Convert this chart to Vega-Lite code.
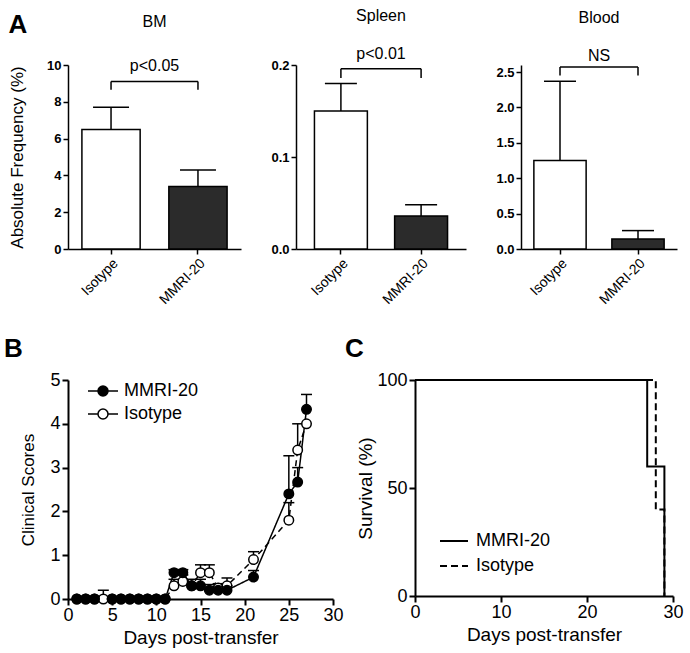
{
  "$schema": "https://vega.github.io/schema/vega-lite/v6.json",
  "padding": {"left": 3, "top": 8, "right": 2, "bottom": 4},
  "config": {
    "font": "Liberation Sans",
    "view": {"stroke": null},
    "axis": {"grid": false, "domainColor": "black", "tickColor": "black", "labelColor": "black", "titleColor": "black", "titleFontWeight": "normal", "labelFlush": false, "labelOverlap": false, "labelFont": "Liberation Sans", "titleFont": "Liberation Sans"},
    "title": {"fontWeight": "normal", "color": "black", "font": "Liberation Sans"},
    "legend": {"labelColor": "black", "labelFont": "Liberation Sans", "padding": 0},
    "text": {"font": "Liberation Sans", "color": "black"}
  },
  "datasets": {
    "freq": [
      {"tissue": "BM", "group": "Isotype", "mean": 6.5, "upper": 7.7},
      {"tissue": "BM", "group": "MMRI-20", "mean": 3.4, "upper": 4.3},
      {"tissue": "Spleen", "group": "Isotype", "mean": 0.15, "upper": 0.18},
      {"tissue": "Spleen", "group": "MMRI-20", "mean": 0.036, "upper": 0.048},
      {"tissue": "Blood", "group": "Isotype", "mean": 1.25, "upper": 2.37},
      {"tissue": "Blood", "group": "MMRI-20", "mean": 0.14, "upper": 0.26}
    ],
    "brackets": [
      {"tissue": "BM", "left": "Isotype", "right": "MMRI-20", "y": 9.1, "yb": 8.65, "label": "p<0.05", "ly": 9.5},
      {"tissue": "Spleen", "left": "Isotype", "right": "MMRI-20", "y": 0.196, "yb": 0.186, "label": "p<0.01", "ly": 0.203},
      {"tissue": "Blood", "left": "Isotype", "right": "MMRI-20", "y": 2.57, "yb": 2.45, "label": "NS", "ly": 2.62}
    ],
    "scores": [
      {"group": "Isotype", "day": 1, "score": 0, "upper": null},
      {"group": "Isotype", "day": 2, "score": 0, "upper": null},
      {"group": "Isotype", "day": 3, "score": 0, "upper": null},
      {"group": "Isotype", "day": 4, "score": 0, "upper": 0.2},
      {"group": "Isotype", "day": 5, "score": 0, "upper": null},
      {"group": "Isotype", "day": 6, "score": 0, "upper": null},
      {"group": "Isotype", "day": 7, "score": 0, "upper": null},
      {"group": "Isotype", "day": 8, "score": 0, "upper": null},
      {"group": "Isotype", "day": 9, "score": 0, "upper": null},
      {"group": "Isotype", "day": 10, "score": 0, "upper": null},
      {"group": "Isotype", "day": 11, "score": 0, "upper": null},
      {"group": "Isotype", "day": 12, "score": 0.3, "upper": 0.45},
      {"group": "Isotype", "day": 13, "score": 0.4, "upper": 0.55},
      {"group": "Isotype", "day": 14, "score": 0.3, "upper": null},
      {"group": "Isotype", "day": 15, "score": 0.6, "upper": 0.78},
      {"group": "Isotype", "day": 16, "score": 0.6, "upper": 0.78},
      {"group": "Isotype", "day": 17, "score": 0.25, "upper": 0.35},
      {"group": "Isotype", "day": 18, "score": 0.3, "upper": 0.48},
      {"group": "Isotype", "day": 21, "score": 0.9, "upper": 1.08},
      {"group": "Isotype", "day": 25, "score": 1.8, "upper": 2.2},
      {"group": "Isotype", "day": 26, "score": 3.4, "upper": 4.0},
      {"group": "Isotype", "day": 27, "score": 4.0, "upper": null},
      {"group": "MMRI-20", "day": 1, "score": 0, "upper": null},
      {"group": "MMRI-20", "day": 2, "score": 0, "upper": null},
      {"group": "MMRI-20", "day": 3, "score": 0, "upper": null},
      {"group": "MMRI-20", "day": 5, "score": 0, "upper": null},
      {"group": "MMRI-20", "day": 6, "score": 0, "upper": null},
      {"group": "MMRI-20", "day": 7, "score": 0, "upper": null},
      {"group": "MMRI-20", "day": 8, "score": 0, "upper": null},
      {"group": "MMRI-20", "day": 9, "score": 0, "upper": null},
      {"group": "MMRI-20", "day": 10, "score": 0, "upper": null},
      {"group": "MMRI-20", "day": 11, "score": 0, "upper": null},
      {"group": "MMRI-20", "day": 12, "score": 0.6, "upper": 0.67},
      {"group": "MMRI-20", "day": 13, "score": 0.6, "upper": 0.67},
      {"group": "MMRI-20", "day": 14, "score": 0.3, "upper": 0.45},
      {"group": "MMRI-20", "day": 15, "score": 0.3, "upper": 0.45},
      {"group": "MMRI-20", "day": 16, "score": 0.2, "upper": 0.33},
      {"group": "MMRI-20", "day": 17, "score": 0.2, "upper": 0.33},
      {"group": "MMRI-20", "day": 18, "score": 0.2, "upper": 0.3},
      {"group": "MMRI-20", "day": 21, "score": 0.5, "upper": 0.65},
      {"group": "MMRI-20", "day": 25, "score": 2.4, "upper": 3.27},
      {"group": "MMRI-20", "day": 26, "score": 2.67, "upper": 3.0},
      {"group": "MMRI-20", "day": 27, "score": 4.33, "upper": 4.67}
    ],
    "survival": [
      {"group": "Isotype", "day": 0, "pct": 100},
      {"group": "Isotype", "day": 28, "pct": 40},
      {"group": "Isotype", "day": 29, "pct": 0},
      {"group": "MMRI-20", "day": 0, "pct": 100},
      {"group": "MMRI-20", "day": 27, "pct": 60},
      {"group": "MMRI-20", "day": 29, "pct": 0}
    ]
  },
  "resolve": {"scale": {"fill": "independent", "strokeDash": "independent"}, "legend": {"fill": "independent", "strokeDash": "independent"}},
  "columns": 1,
  "align": "none",
  "spacing": 29,
  "concat": [
    {
      "title": {"text": "A", "anchor": "start", "fontSize": 26, "fontWeight": "bold", "offset": -14, "dx": 0, "dy": 16},
      "spacing": 29,
      "hconcat": [
        {
          "width": 173, "height": 184,
          "title": {"text": "BM", "fontSize": 16, "offset": 28},
          "layer": [
            {"data": {"name": "freq"}, "transform": [{"filter": "datum.tissue === 'BM'"}],
             "mark": {"type": "rule", "strokeWidth": 1.5, "color": "black"},
             "encoding": {
               "x": {"field": "group", "type": "nominal", "scale": {"paddingInner": 0.33, "paddingOuter": 0.16}, "axis": {"title": null, "labelAngle": -45, "labelFontSize": 14, "tickSize": 5, "tickWidth": 1.5, "domainWidth": 1.5}},
               "y": {"field": "mean", "type": "quantitative", "scale": {"domain": [0, 10]}, "axis": {"values": [0, 2, 4, 6, 8, 10], "title": "Absolute Frequency (%)", "titleFontSize": 17, "titlePadding": 20, "labelFontSize": 13, "labelFontWeight": "bold", "tickSize": 5, "tickWidth": 1.5, "domainWidth": 1.5}},
               "y2": {"field": "upper"}}},
            {"data": {"name": "freq"}, "transform": [{"filter": "datum.tissue === 'BM'"}],
             "mark": {"type": "bar", "stroke": "black", "strokeWidth": 1.5},
             "encoding": {"x": {"field": "group", "type": "nominal"},
               "y": {"field": "mean", "type": "quantitative", "axis": {"values": [0, 2, 4, 6, 8, 10], "title": "Absolute Frequency (%)", "titleFontSize": 17, "titlePadding": 20, "labelFontSize": 13, "labelFontWeight": "bold", "tickSize": 5, "tickWidth": 1.5, "domainWidth": 1.5}},
               "fill": {"field": "group", "type": "nominal", "scale": {"domain": ["Isotype", "MMRI-20"], "range": ["white", "#2b2b2b"]}, "legend": null}}},
            {"data": {"name": "freq"}, "transform": [{"filter": "datum.tissue === 'BM'"}],
             "mark": {"type": "tick", "orient": "horizontal", "size": 36, "thickness": 1.5, "color": "black", "opacity": 1},
             "encoding": {"x": {"field": "group", "type": "nominal"},
               "y": {"field": "upper", "type": "quantitative", "axis": {"values": [0, 2, 4, 6, 8, 10], "title": "Absolute Frequency (%)", "titleFontSize": 17, "titlePadding": 20, "labelFontSize": 13, "labelFontWeight": "bold", "tickSize": 5, "tickWidth": 1.5, "domainWidth": 1.5}}}},
            {"data": {"name": "brackets"}, "transform": [{"filter": "datum.tissue === 'BM'"}],
             "mark": {"type": "rule", "strokeWidth": 1.5, "color": "black"},
             "encoding": {"x": {"field": "left", "type": "nominal"}, "x2": {"field": "right"},
               "y": {"field": "y", "type": "quantitative", "axis": {"values": [0, 2, 4, 6, 8, 10], "title": "Absolute Frequency (%)", "titleFontSize": 17, "titlePadding": 20, "labelFontSize": 13, "labelFontWeight": "bold", "tickSize": 5, "tickWidth": 1.5, "domainWidth": 1.5}}}},
            {"data": {"name": "brackets"}, "transform": [{"filter": "datum.tissue === 'BM'"}],
             "mark": {"type": "rule", "strokeWidth": 1.5, "color": "black"},
             "encoding": {"x": {"field": "left", "type": "nominal"},
               "y": {"field": "y", "type": "quantitative", "axis": {"values": [0, 2, 4, 6, 8, 10], "title": "Absolute Frequency (%)", "titleFontSize": 17, "titlePadding": 20, "labelFontSize": 13, "labelFontWeight": "bold", "tickSize": 5, "tickWidth": 1.5, "domainWidth": 1.5}}, "y2": {"field": "yb"}}},
            {"data": {"name": "brackets"}, "transform": [{"filter": "datum.tissue === 'BM'"}],
             "mark": {"type": "rule", "strokeWidth": 1.5, "color": "black"},
             "encoding": {"x": {"field": "right", "type": "nominal"},
               "y": {"field": "y", "type": "quantitative", "axis": {"values": [0, 2, 4, 6, 8, 10], "title": "Absolute Frequency (%)", "titleFontSize": 17, "titlePadding": 20, "labelFontSize": 13, "labelFontWeight": "bold", "tickSize": 5, "tickWidth": 1.5, "domainWidth": 1.5}}, "y2": {"field": "yb"}}},
            {"data": {"name": "brackets"}, "transform": [{"filter": "datum.tissue === 'BM'"}],
             "mark": {"type": "text", "baseline": "bottom", "fontSize": 16},
             "encoding": {"y": {"field": "ly", "type": "quantitative", "axis": {"values": [0, 2, 4, 6, 8, 10], "title": "Absolute Frequency (%)", "titleFontSize": 17, "titlePadding": 20, "labelFontSize": 13, "labelFontWeight": "bold", "tickSize": 5, "tickWidth": 1.5, "domainWidth": 1.5}}, "text": {"field": "label"}}}
          ]
        },
        {
          "width": 170, "height": 184,
          "title": {"text": "Spleen", "fontSize": 16, "offset": 22},
          "layer": [
            {"data": {"name": "freq"}, "transform": [{"filter": "datum.tissue === 'Spleen'"}],
             "mark": {"type": "rule", "strokeWidth": 1.5, "color": "black"},
             "encoding": {
               "x": {"field": "group", "type": "nominal", "scale": {"paddingInner": 0.34, "paddingOuter": 0.23}, "axis": {"title": null, "labelAngle": -45, "labelFontSize": 14, "tickSize": 5, "tickWidth": 1.5, "domainWidth": 1.5}},
               "y": {"field": "mean", "type": "quantitative", "scale": {"domain": [0, 0.2]}, "axis": {"values": [0, 0.1, 0.2], "format": ".1f", "title": null, "labelFontSize": 13, "labelFontWeight": "bold", "tickSize": 5, "tickWidth": 1.5, "domainWidth": 1.5}},
               "y2": {"field": "upper"}}},
            {"data": {"name": "freq"}, "transform": [{"filter": "datum.tissue === 'Spleen'"}],
             "mark": {"type": "bar", "stroke": "black", "strokeWidth": 1.5},
             "encoding": {"x": {"field": "group", "type": "nominal"},
               "y": {"field": "mean", "type": "quantitative", "axis": {"values": [0, 0.1, 0.2], "format": ".1f", "title": null, "labelFontSize": 13, "labelFontWeight": "bold", "tickSize": 5, "tickWidth": 1.5, "domainWidth": 1.5}},
               "fill": {"field": "group", "type": "nominal", "scale": {"domain": ["Isotype", "MMRI-20"], "range": ["white", "#2b2b2b"]}, "legend": null}}},
            {"data": {"name": "freq"}, "transform": [{"filter": "datum.tissue === 'Spleen'"}],
             "mark": {"type": "tick", "orient": "horizontal", "size": 32, "thickness": 1.5, "color": "black", "opacity": 1},
             "encoding": {"x": {"field": "group", "type": "nominal"},
               "y": {"field": "upper", "type": "quantitative", "axis": {"values": [0, 0.1, 0.2], "format": ".1f", "title": null, "labelFontSize": 13, "labelFontWeight": "bold", "tickSize": 5, "tickWidth": 1.5, "domainWidth": 1.5}}}},
            {"data": {"name": "brackets"}, "transform": [{"filter": "datum.tissue === 'Spleen'"}],
             "mark": {"type": "rule", "strokeWidth": 1.5, "color": "black"},
             "encoding": {"x": {"field": "left", "type": "nominal"}, "x2": {"field": "right"},
               "y": {"field": "y", "type": "quantitative", "axis": {"values": [0, 0.1, 0.2], "format": ".1f", "title": null, "labelFontSize": 13, "labelFontWeight": "bold", "tickSize": 5, "tickWidth": 1.5, "domainWidth": 1.5}}}},
            {"data": {"name": "brackets"}, "transform": [{"filter": "datum.tissue === 'Spleen'"}],
             "mark": {"type": "rule", "strokeWidth": 1.5, "color": "black"},
             "encoding": {"x": {"field": "left", "type": "nominal"},
               "y": {"field": "y", "type": "quantitative", "axis": {"values": [0, 0.1, 0.2], "format": ".1f", "title": null, "labelFontSize": 13, "labelFontWeight": "bold", "tickSize": 5, "tickWidth": 1.5, "domainWidth": 1.5}}, "y2": {"field": "yb"}}},
            {"data": {"name": "brackets"}, "transform": [{"filter": "datum.tissue === 'Spleen'"}],
             "mark": {"type": "rule", "strokeWidth": 1.5, "color": "black"},
             "encoding": {"x": {"field": "right", "type": "nominal"},
               "y": {"field": "y", "type": "quantitative", "axis": {"values": [0, 0.1, 0.2], "format": ".1f", "title": null, "labelFontSize": 13, "labelFontWeight": "bold", "tickSize": 5, "tickWidth": 1.5, "domainWidth": 1.5}}, "y2": {"field": "yb"}}},
            {"data": {"name": "brackets"}, "transform": [{"filter": "datum.tissue === 'Spleen'"}],
             "mark": {"type": "text", "baseline": "bottom", "fontSize": 16},
             "encoding": {"y": {"field": "ly", "type": "quantitative", "axis": {"values": [0, 0.1, 0.2], "format": ".1f", "title": null, "labelFontSize": 13, "labelFontWeight": "bold", "tickSize": 5, "tickWidth": 1.5, "domainWidth": 1.5}}, "text": {"field": "label"}}}
          ]
        },
        {
          "width": 156, "height": 184,
          "title": {"text": "Blood", "fontSize": 16, "offset": 22},
          "layer": [
            {"data": {"name": "freq"}, "transform": [{"filter": "datum.tissue === 'Blood'"}],
             "mark": {"type": "rule", "strokeWidth": 1.5, "color": "black"},
             "encoding": {
               "x": {"field": "group", "type": "nominal", "scale": {"paddingInner": 0.33, "paddingOuter": 0.165}, "axis": {"title": null, "labelAngle": -45, "labelFontSize": 14, "tickSize": 5, "tickWidth": 1.5, "domainWidth": 1.5}},
               "y": {"field": "mean", "type": "quantitative", "scale": {"domain": [0, 2.5]}, "axis": {"values": [0, 0.5, 1, 1.5, 2, 2.5], "format": ".1f", "title": null, "labelFontSize": 13, "labelFontWeight": "bold", "tickSize": 5, "tickWidth": 1.5, "domainWidth": 1.5}},
               "y2": {"field": "upper"}}},
            {"data": {"name": "freq"}, "transform": [{"filter": "datum.tissue === 'Blood'"}],
             "mark": {"type": "bar", "stroke": "black", "strokeWidth": 1.5},
             "encoding": {"x": {"field": "group", "type": "nominal"},
               "y": {"field": "mean", "type": "quantitative", "axis": {"values": [0, 0.5, 1, 1.5, 2, 2.5], "format": ".1f", "title": null, "labelFontSize": 13, "labelFontWeight": "bold", "tickSize": 5, "tickWidth": 1.5, "domainWidth": 1.5}},
               "fill": {"field": "group", "type": "nominal", "scale": {"domain": ["Isotype", "MMRI-20"], "range": ["white", "#2b2b2b"]}, "legend": null}}},
            {"data": {"name": "freq"}, "transform": [{"filter": "datum.tissue === 'Blood'"}],
             "mark": {"type": "tick", "orient": "horizontal", "size": 32, "thickness": 1.5, "color": "black", "opacity": 1},
             "encoding": {"x": {"field": "group", "type": "nominal"},
               "y": {"field": "upper", "type": "quantitative", "axis": {"values": [0, 0.5, 1, 1.5, 2, 2.5], "format": ".1f", "title": null, "labelFontSize": 13, "labelFontWeight": "bold", "tickSize": 5, "tickWidth": 1.5, "domainWidth": 1.5}}}},
            {"data": {"name": "brackets"}, "transform": [{"filter": "datum.tissue === 'Blood'"}],
             "mark": {"type": "rule", "strokeWidth": 1.5, "color": "black"},
             "encoding": {"x": {"field": "left", "type": "nominal"}, "x2": {"field": "right"},
               "y": {"field": "y", "type": "quantitative", "axis": {"values": [0, 0.5, 1, 1.5, 2, 2.5], "format": ".1f", "title": null, "labelFontSize": 13, "labelFontWeight": "bold", "tickSize": 5, "tickWidth": 1.5, "domainWidth": 1.5}}}},
            {"data": {"name": "brackets"}, "transform": [{"filter": "datum.tissue === 'Blood'"}],
             "mark": {"type": "rule", "strokeWidth": 1.5, "color": "black"},
             "encoding": {"x": {"field": "left", "type": "nominal"},
               "y": {"field": "y", "type": "quantitative", "axis": {"values": [0, 0.5, 1, 1.5, 2, 2.5], "format": ".1f", "title": null, "labelFontSize": 13, "labelFontWeight": "bold", "tickSize": 5, "tickWidth": 1.5, "domainWidth": 1.5}}, "y2": {"field": "yb"}}},
            {"data": {"name": "brackets"}, "transform": [{"filter": "datum.tissue === 'Blood'"}],
             "mark": {"type": "rule", "strokeWidth": 1.5, "color": "black"},
             "encoding": {"x": {"field": "right", "type": "nominal"},
               "y": {"field": "y", "type": "quantitative", "axis": {"values": [0, 0.5, 1, 1.5, 2, 2.5], "format": ".1f", "title": null, "labelFontSize": 13, "labelFontWeight": "bold", "tickSize": 5, "tickWidth": 1.5, "domainWidth": 1.5}}, "y2": {"field": "yb"}}},
            {"data": {"name": "brackets"}, "transform": [{"filter": "datum.tissue === 'Blood'"}],
             "mark": {"type": "text", "baseline": "bottom", "fontSize": 16},
             "encoding": {"y": {"field": "ly", "type": "quantitative", "axis": {"values": [0, 0.5, 1, 1.5, 2, 2.5], "format": ".1f", "title": null, "labelFontSize": 13, "labelFontWeight": "bold", "tickSize": 5, "tickWidth": 1.5, "domainWidth": 1.5}}, "text": {"field": "label"}}}
          ]
        }
      ]
    },
    {
      "spacing": 0,
      "resolve": {"scale": {"strokeDash": "independent"}, "legend": {"strokeDash": "independent"}},
      "hconcat": [
        {
          "width": 265, "height": 219,
          "title": {"text": "B", "anchor": "start", "fontSize": 26, "fontWeight": "bold", "offset": 9, "dx": -16},
          "data": {"name": "scores"},
          "layer": [
            {"mark": {"type": "line", "strokeWidth": 1.5, "color": "black"},
             "encoding": {
               "x": {"field": "day", "type": "quantitative", "scale": {"domain": [0, 30]}, "axis": {"values": [0, 5, 10, 15, 20, 25, 30], "title": "Days post-transfer", "titleFontSize": 19, "labelFontSize": 18, "tickSize": 6, "tickWidth": 2, "domainWidth": 2, "labelPadding": 1, "titlePadding": 4}},
               "y": {"field": "score", "type": "quantitative", "scale": {"domain": [0, 5]}, "axis": {"values": [0, 1, 2, 3, 4, 5], "title": "Clinical Scores", "titleFontSize": 17, "labelFontSize": 18, "tickSize": 6, "tickWidth": 2, "domainWidth": 2, "labelPadding": 2, "titlePadding": 12}},
               "strokeDash": {"field": "group", "type": "nominal", "scale": {"domain": ["MMRI-20", "Isotype"], "range": [[1, 0], [6, 4]]}, "legend": null}}},
            {"transform": [{"filter": "datum.upper != null"}],
             "mark": {"type": "rule", "strokeWidth": 1.5, "color": "black"},
             "encoding": {"x": {"field": "day", "type": "quantitative"}, "y": {"field": "score", "type": "quantitative"}, "y2": {"field": "upper"}}},
            {"transform": [{"filter": "datum.upper != null"}],
             "mark": {"type": "tick", "orient": "horizontal", "size": 11, "thickness": 1.5, "color": "black", "opacity": 1},
             "encoding": {"x": {"field": "day", "type": "quantitative"}, "y": {"field": "upper", "type": "quantitative"}}},
            {"mark": {"type": "point", "filled": true, "size": 90, "stroke": "black", "strokeWidth": 1.5, "opacity": 1},
             "encoding": {"x": {"field": "day", "type": "quantitative"}, "y": {"field": "score", "type": "quantitative"},
               "fill": {"field": "group", "type": "nominal", "scale": {"domain": ["MMRI-20", "Isotype"], "range": ["black", "white"]},
                 "legend": {"title": null, "orient": "none", "legendX": 24, "legendY": 0, "symbolType": "M-1.5,0L-0.5,0M0.5,0L1.5,0M0.5,0A0.5,0.5,0,1,1,-0.5,0A0.5,0.5,0,1,1,0.5,0Z", "symbolSize": 400, "symbolStrokeColor": "black", "symbolStrokeWidth": 1.5, "labelFontSize": 18, "labelOffset": 10, "rowPadding": 3}}}}
          ]
        },
        {
          "width": 258, "height": 216,
          "title": {"text": "C", "anchor": "start", "fontSize": 26, "fontWeight": "bold", "offset": 9, "dx": -12},
          "data": {"name": "survival"},
          "mark": {"type": "line", "interpolate": "step-after", "strokeWidth": 2, "color": "black"},
          "encoding": {
            "x": {"field": "day", "type": "quantitative", "scale": {"domain": [0, 30]}, "axis": {"values": [0, 10, 20, 30], "title": "Days post-transfer", "titleFontSize": 19, "labelFontSize": 18, "tickSize": 6, "tickWidth": 2, "domainWidth": 2, "labelPadding": 1, "titlePadding": 4}},
            "y": {"field": "pct", "type": "quantitative", "scale": {"domain": [0, 100]}, "axis": {"values": [0, 50, 100], "title": "Survival (%)", "titleFontSize": 19, "labelFontSize": 18, "tickSize": 6, "tickWidth": 2, "domainWidth": 2, "labelPadding": 2, "titlePadding": 1}},
            "strokeDash": {"field": "group", "type": "nominal", "scale": {"domain": ["MMRI-20", "Isotype"], "range": [[1, 0], [7, 4]]},
              "legend": {"title": null, "orient": "none", "legendX": 28, "legendY": 150, "symbolType": "M-1.4,0L1.4,0", "symbolSize": 400, "symbolStrokeColor": "black", "symbolStrokeWidth": 2, "labelFontSize": 18, "labelOffset": 11, "rowPadding": 5}}
          }
        }
      ]
    }
  ]
}
